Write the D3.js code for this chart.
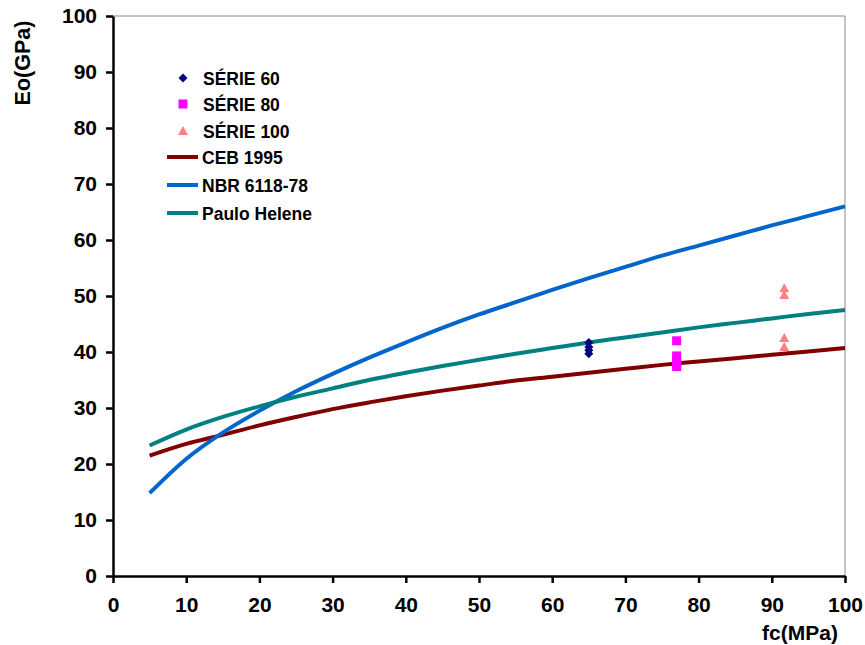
<!DOCTYPE html>
<html><head><meta charset="utf-8">
<script src="https://cdn.jsdelivr.net/npm/d3@7"></script>
<style>body{margin:0;background:#fff}svg{display:block}text{font-family:"Liberation Sans",Arial,sans-serif;font-weight:bold;fill:#000}</style>
</head><body><svg id="c" width="865" height="645"></svg>
<script>
const xTicks=[0,10,20,30,40,50,60,70,80,90,100];
const yTicks=[0,10,20,30,40,50,60,70,80,90,100];
const fcGrid=[5,10,15,20,25,30,35,40,45,50,55,60,65,70,75,80,85,90,95,100];
const ceb1995=[21.5,23.6,25.2,26.9,28.4,29.8,31.0,32.1,33.1,34.0,34.9,35.6,36.3,37.0,37.7,38.3,38.9,39.5,40.1,40.7];
const nbr6118=[14.8,20.9,25.6,29.5,33.0,36.1,39.0,41.7,44.3,46.7,48.9,51.1,53.2,55.2,57.2,59.0,60.8,62.6,64.3,66.0];
const pauloHelene=[23.3,26.15,28.4,30.3,32.0,33.5,35.0,36.3,37.5,38.6,39.7,40.7,41.7,42.6,43.5,44.4,45.2,46.0,46.8,47.5];
const serie60x=[65,65,65,65], serie60y=[41.7,40.9,40.3,39.7];
const serie80x=[77,77,77,77,77], serie80y=[42.0,39.3,38.6,37.9,37.4];
const serie100x=[91.7,91.7,91.7,91.7], serie100y=[51.4,50.2,42.5,40.9];

const svg=d3.select("#c");
const L=113,R=845,T=16,B=576;
const x=d3.scaleLinear().domain([0,100]).range([L,R]);
const y=d3.scaleLinear().domain([0,100]).range([B,T]);

svg.append("line").attr("x1",L).attr("x2",R).attr("y1",T).attr("y2",T).attr("stroke","#888").attr("stroke-width",1);
svg.append("line").attr("x1",R).attr("x2",R).attr("y1",T).attr("y2",B).attr("stroke","#888").attr("stroke-width",1);

const gx=svg.append("g").attr("transform",`translate(0,${B})`).call(d3.axisBottom(x).tickValues(xTicks).tickSize(7).tickSizeOuter(0).tickPadding(14));
const gy=svg.append("g").attr("transform",`translate(${L},0)`).call(d3.axisLeft(y).tickValues(yTicks).tickSize(7).tickSizeOuter(0).tickPadding(9));
[gx,gy].forEach(g=>{g.select(".domain").attr("stroke","#000").attr("stroke-width",2.5);
 g.selectAll(".tick line").attr("stroke","#000").attr("stroke-width",2.5);
 g.selectAll(".tick text").attr("font-size",21).attr("font-family","Liberation Sans, Arial, sans-serif").attr("font-weight","bold").attr("fill","#000");});

svg.append("text").attr("x",800).attr("y",640).attr("text-anchor","middle").attr("font-size",21).text("fc(MPa)");
svg.append("text").attr("transform","translate(30,63) rotate(-90)").attr("text-anchor","middle").attr("font-size",21.5).text("Eo(GPa)");

const line=d3.line().x((d,i)=>x(fcGrid[i])).y(d=>y(d)).curve(d3.curveMonotoneX);
const series=[{n:"CEB 1995",v:ceb1995,c:"#800000"},{n:"NBR 6118-78",v:nbr6118,c:"#0066cc"},{n:"Paulo Helene",v:pauloHelene,c:"#008080"}];
series.forEach(s=>svg.append("path").attr("d",line(s.v)).attr("fill","none").attr("stroke",s.c).attr("stroke-width",4));

const diamond="M0,-4.5L4.5,0L0,4.5L-4.5,0Z";
const tri="M0,-5L5,4L-5,4Z";
serie60x.forEach((v,i)=>svg.append("path").attr("d",diamond).attr("transform",`translate(${x(v)},${y(serie60y[i])})`).attr("fill","#000080"));
serie80x.forEach((v,i)=>svg.append("rect").attr("x",x(v)-4.5).attr("y",y(serie80y[i])-4.5).attr("width",9).attr("height",9).attr("fill","#ff00ff"));
serie100x.forEach((v,i)=>svg.append("path").attr("d",tri).attr("transform",`translate(${x(v)},${y(serie100y[i])})`).attr("fill","#ff8080"));

const lg=svg.append("g");
const rows=[78,104,131,157,185,213];
lg.append("path").attr("d",diamond).attr("transform",`translate(183,${rows[0]})`).attr("fill","#000080");
lg.append("rect").attr("x",178.5).attr("y",rows[1]-4.5).attr("width",9).attr("height",9).attr("fill","#ff00ff");
lg.append("path").attr("d",tri).attr("transform",`translate(183,${rows[2]})`).attr("fill","#ff8080");
series.forEach((s,i)=>lg.append("line").attr("x1",167).attr("x2",198).attr("y1",rows[3+i]).attr("y2",rows[3+i]).attr("stroke",s.c).attr("stroke-width",4));
const names=["SÉRIE 60","SÉRIE 80","SÉRIE 100","CEB 1995","NBR 6118-78","Paulo Helene"];
names.forEach((n,i)=>lg.append("text").attr("x",i<3?203:202).attr("y",rows[i]+6.5).attr("font-size",17.5).text(n));
</script></body></html>
